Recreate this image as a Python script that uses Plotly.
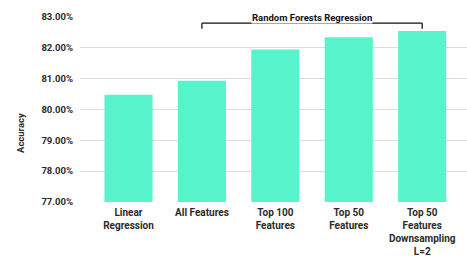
import plotly.graph_objects as go

categories = ["Linear<br>Regression", "All Features", "Top 100<br>Features", "Top 50<br>Features",
              "Top 50<br>Features<br>Downsampling<br>L=2"]
accuracy = [80.48, 80.93, 81.95, 82.34, 82.55]
tick_vals = [77, 78, 79, 80, 81, 82, 83]
tick_labels = ["77.00%", "78.00%", "79.00%", "80.00%", "81.00%", "82.00%", "83.00%"]
group_label = "Random Forests Regression"
y_title = "Accuracy"

FONT = "Roboto"
TXT = "#2b2b2b"

fig = go.Figure()
fig.add_trace(go.Bar(
    x=list(range(len(categories))), y=accuracy,
    marker=dict(color="#57F4CB", line=dict(width=0)),
    width=0.655,
))

fig.update_layout(
    width=467, height=260,
    margin=dict(l=80, r=0, t=17, b=58, autoexpand=False),
    paper_bgcolor="white", plot_bgcolor="white",
    showlegend=False,
    font=dict(family=FONT, size=9, color=TXT),
    xaxis=dict(
        range=[-0.66, 4.61], automargin=False,
        tickmode="array", tickvals=list(range(len(categories))), ticktext=categories,
        showgrid=False, zeroline=False, showline=False, ticks="",
        ticklabelstandoff=3,
        tickfont=dict(family=FONT, size=10, color=TXT, weight="bold"),
        fixedrange=True,
    ),
    yaxis=dict(
        range=[77, 83], automargin=False,
        tickmode="array", tickvals=tick_vals, ticktext=tick_labels,
        showgrid=True, gridcolor="#dcdcdc", gridwidth=1,
        zeroline=False, showline=False, ticks="",
        ticklabelstandoff=6,
        tickfont=dict(family=FONT, size=9.5, color=TXT, weight="bold"),
        fixedrange=True,
    ),
    bargap=0.3,
)

# y-axis title centered on chart
fig.add_annotation(
    text=y_title, textangle=-90, xref="paper", yref="paper",
    x=-60/387, y=(260-133-58)/185, xanchor="center", yanchor="middle",
    showarrow=False, font=dict(family=FONT, size=9.5, color=TXT, weight="bold"),
)

# bracket
yb = 82.80
yt = 82.62
fig.add_shape(type="line", x0=1, x1=4, y0=yb, y1=yb, xref="x", yref="y",
              line=dict(color="#111111", width=1.3))
fig.add_shape(type="line", x0=1, x1=1, y0=yb, y1=yt, xref="x", yref="y",
              line=dict(color="#111111", width=1.3))
fig.add_shape(type="line", x0=4, x1=4, y0=yb, y1=yt, xref="x", yref="y",
              line=dict(color="#111111", width=1.3))
fig.add_annotation(
    text=group_label, x=2.5, y=83.0, xref="x", yref="y",
    xanchor="center", yanchor="middle", showarrow=False,
    bgcolor="white", borderpad=0,
    font=dict(family=FONT, size=9.5, color="#111111", weight="bold"),
)

fig.write_html("out.html", config={"displayModeBar": False, "staticPlot": True},
               post_script="document.body.style.margin='0';document.body.style.overflow='hidden';")
